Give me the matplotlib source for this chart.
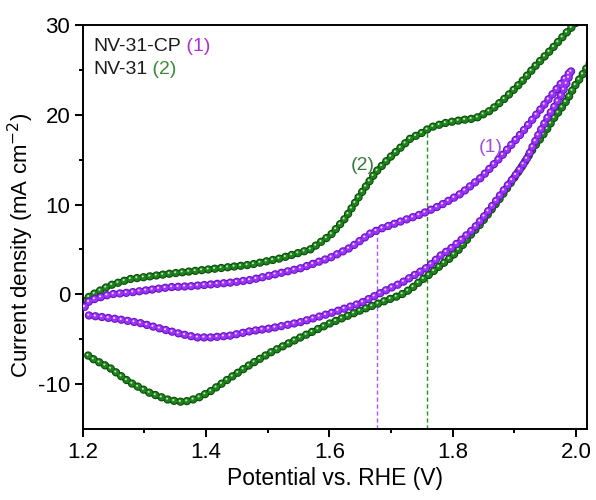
import numpy as np
import matplotlib.pyplot as plt
from matplotlib.transforms import ScaledTranslation

plt.rcParams['font.family'] = ['Liberation Sans', 'DejaVu Sans']
plt.rcParams['axes.unicode_minus'] = False
plt.rcParams['lines.scale_dashes'] = False

# NV-31 (2), forward and return scans
nv31_fwd_v = [1.202, 1.211, 1.244, 1.276, 1.341, 1.407, 1.472, 1.520, 1.569, 1.602, 1.626,
              1.650, 1.675, 1.699, 1.732, 1.748, 1.764, 1.789, 1.813, 1.837, 1.862, 1.886,
              1.911, 1.935, 1.959, 1.984, 2.008, 2.033]
nv31_fwd_j = [-0.8, -0.2, 1.0, 1.7, 2.3, 2.8, 3.3, 4.0, 5.0, 6.6, 8.5,
              11.1, 13.6, 15.3, 17.4, 17.9, 18.6, 19.1, 19.4, 19.6, 20.5, 21.9,
              23.6, 25.5, 27.2, 29.1, 30.8, 32.5]
nv31_rev_v = [2.033, 2.020, 2.008, 1.997, 1.987, 1.976, 1.964, 1.954, 1.943, 1.932, 1.922,
              1.911, 1.894, 1.878, 1.862, 1.846, 1.829, 1.813, 1.797, 1.780, 1.764, 1.748,
              1.732, 1.715, 1.699, 1.650, 1.602, 1.553, 1.504, 1.472, 1.439, 1.407, 1.385,
              1.363, 1.341, 1.309, 1.276, 1.244, 1.211, 1.202]
nv31_rev_j = [26.9, 25.5, 24.2, 23.1, 21.8, 20.7, 19.6, 18.5, 17.4, 16.4, 15.3,
              14.1, 12.4, 10.8, 9.35, 7.9, 6.6, 5.2, 4.1, 3.2, 2.3, 1.5,
              0.6, -0.1, -0.5, -1.8, -3.2, -4.8, -6.5, -7.8, -9.3, -10.8, -11.6,
              -12.0, -11.8, -11.0, -9.8, -8.2, -7.0, -6.3]

# NV-31-CP (1), forward and return scans
cp_fwd_v = [1.203, 1.211, 1.244, 1.276, 1.309, 1.341, 1.374, 1.407, 1.439, 1.472, 1.504,
            1.553, 1.602, 1.634, 1.667, 1.683, 1.715, 1.748, 1.780, 1.813, 1.846, 1.878,
            1.911, 1.932, 1.954, 1.976, 1.993]
cp_fwd_j = [-1.4, -0.7, 0.0, 0.2, 0.5, 0.8, 0.9, 1.1, 1.3, 1.6, 2.1,
            2.9, 4.1, 5.2, 6.8, 7.3, 8.1, 8.9, 9.9, 11.2, 13.0, 15.3,
            17.9, 19.7, 21.6, 23.5, 25.0]
cp_rev_v = [1.984, 1.976, 1.964, 1.954, 1.943, 1.932, 1.922, 1.911, 1.899, 1.883, 1.867,
            1.850, 1.834, 1.813, 1.797, 1.780, 1.759, 1.737, 1.715, 1.699, 1.650, 1.602,
            1.553, 1.504, 1.472, 1.439, 1.407, 1.385, 1.358, 1.325, 1.293, 1.260, 1.228, 1.203]
cp_rev_j = [23.4, 22.2, 20.8, 19.7, 18.3, 16.8, 15.3, 14.1, 13.0, 11.6, 10.1,
            8.6, 7.3, 6.0, 5.1, 4.3, 3.0, 2.1, 1.2, 0.7, -1.0, -2.1,
            -3.1, -3.8, -4.1, -4.6, -4.8, -4.8, -4.4, -3.8, -3.2, -2.8, -2.5, -2.3]

# peak positions marked by dashed lines
peak_v = [1.678, 1.758]
peak_j = [7.0, 18.3]

fig = plt.figure(figsize=(5.96, 5.0), dpi=100)
ax = fig.add_axes([0.139, 0.142, 0.846, 0.808])

ax.plot([peak_v[0], peak_v[0]], [-15, peak_j[0]], color='#b050ff', linestyle=(0, (3, 2)), linewidth=1.0, zorder=1)
ax.plot([peak_v[1], peak_v[1]], [-15, peak_j[1]], color='#1e961e', linestyle=(0, (3, 2)), linewidth=1.0, zorder=1)

beads = (0, (0.1, 4.6))


def draw_beads(v, j, edge, body, light, z):
    # balls drawn as a dotted line with round caps, plus a shifted highlight
    ax.plot(v, j, linestyle=beads, linewidth=6.0, color=edge, dash_capstyle='round', zorder=z)
    ax.plot(v, j, linestyle=beads, linewidth=4.6, color=body, dash_capstyle='round', zorder=z + 0.1)
    shift = ax.transData + ScaledTranslation(-0.5 / 72, 0.6 / 72, fig.dpi_scale_trans)
    ax.plot(v, j, linestyle=beads, linewidth=1.5, color=light, dash_capstyle='round',
            zorder=z + 0.2, transform=shift)


draw_beads(nv31_fwd_v + nv31_rev_v, nv31_fwd_j + nv31_rev_j, '#084808', '#1f821f', '#c4eabc', 2)
draw_beads(cp_fwd_v + cp_rev_v, cp_fwd_j + cp_rev_j, '#6410c0', '#9a34f6', '#f6d8ff', 3)

ax.text(1.654, 14.3, '(2)', color='#3a7a3a', fontsize=14, ha='center', va='center')
ax.text(1.862, 16.4, '(1)', color='#a050e0', fontsize=14, ha='center', va='center')

t1 = ax.text(0.02, 0.946, 'NV-31-CP', transform=ax.transAxes, fontsize=14, color='#1a1a1a', va='center')
ax.annotate(' (1)', xy=(1, 0), xycoords=t1, va='bottom', fontsize=14, color='#b030d0')
t2 = ax.text(0.02, 0.889, 'NV-31', transform=ax.transAxes, fontsize=14, color='#1a1a1a', va='center')
ax.annotate(' (2)', xy=(1, 0), xycoords=t2, va='bottom', fontsize=14, color='#3a8a3a')

ax.set_xlim(1.2, 2.018)
ax.set_ylim(-15, 30)
ax.set_xticks([1.2, 1.4, 1.6, 1.8, 2.0])
ax.set_xticks([1.3, 1.5, 1.7, 1.9], minor=True)
ax.set_yticks([-10, 0, 10, 20, 30])
ax.set_yticks([-5, 5, 15, 25], minor=True)
ax.tick_params(which='major', length=5.5, width=1.4, labelsize=16, direction='out')
ax.tick_params(which='minor', length=3, width=1.4, direction='out')
for s in ax.spines.values():
    s.set_linewidth(1.4)

ax.set_xlabel('Potential vs. RHE (V)', fontsize=16.5, labelpad=3)
ax.set_ylabel('Current density (mA cm$^{-2}$)', fontsize=16)
ax.yaxis.set_label_coords(-0.093, 0.455)

fig.savefig('out.png', dpi=100)
